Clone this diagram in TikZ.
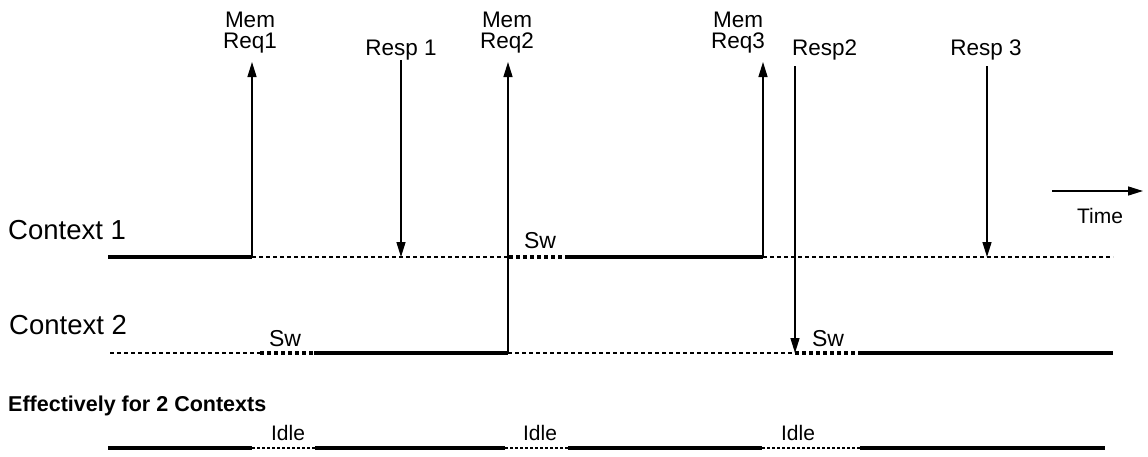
\documentclass[tikz,border=0pt]{standalone}
\usepackage{fontspec}
\setmainfont{Liberation Sans}
\usetikzlibrary{arrows.meta}
\tikzset{
  busy/.style={line width=3.8pt},
  waitline/.style={line width=1.3pt, dash pattern=on 4pt off 3pt},
  swline/.style={line width=3.8pt, dash pattern=on 4pt off 3pt},
  idleline/.style={line width=1.5pt, dash pattern=on 3pt off 2pt},
  evt/.style={line width=1.4pt, -{Triangle[length=15pt,width=9pt]}},
  lbl/.style={font=\fontsize{22.5}{21}\selectfont, align=center, inner sep=0pt},
  resp/.style={font=\fontsize{22.5}{24}\selectfont, inner sep=0pt},
  big/.style={font=\fontsize{27.5}{30}\selectfont, inner sep=0pt, anchor=base west},
  small/.style={font=\fontsize{21}{24}\selectfont, inner sep=0pt, anchor=base},
  swlbl/.style={font=\fontsize{23}{24}\selectfont, inner sep=0pt, anchor=base},
}
\begin{document}
\begin{tikzpicture}[x=1pt,y=-1pt]
\useasboundingbox (0,0) rectangle (1148,456);
% Context 1 coordinates
\coordinate (a0) at (108,257);
\coordinate (a1) at (252,257);
\coordinate (a2) at (509,257);
\coordinate (a3) at (568,257);
\coordinate (a4) at (763,257);
\coordinate (a5) at (1113,257);
% Context 2 coordinates
\coordinate (b0) at (110,353);
\coordinate (b1) at (260,353);
\coordinate (b2) at (314,353);
\coordinate (b3) at (508,353);
\coordinate (b4) at (795,353);
\coordinate (b5) at (860,353);
\coordinate (b6) at (1113,353);
% Effective
\coordinate (c0) at (108,448);
\coordinate (c1) at (252,448);
\coordinate (c2) at (315,448);
\coordinate (c3) at (505,448);
\coordinate (c4) at (568,448);
\coordinate (c5) at (762,448);
\coordinate (c6) at (860,448);
\coordinate (c7) at (1105,448);
% event endpoints
\coordinate (r1top) at (252,62);
\coordinate (r2top) at (508,62);
\coordinate (r3top) at (763,62);
\coordinate (p1top) at (401,60);
\coordinate (p1bot) at (401,257);
\coordinate (p2top) at (795,66);
\coordinate (p3top) at (987,66);
\coordinate (p3bot) at (987,257);
\coordinate (t0) at (1052,191);
\coordinate (t1) at (1143,191);

% labels
\node[big] (ctx1) at (8,239) {Context 1};
\node[big] (ctx2) at (9,334) {Context 2};
\node[anchor=base west, inner sep=0pt, font=\fontsize{21.5}{24}\selectfont\bfseries] (eff) at (8,411) {Effectively for 2 Contexts};
\node[lbl, anchor=south] (lr1) at (250,53) {Mem\\Req1};
\node[lbl, anchor=south] (lr2) at (507,53) {Mem\\Req2};
\node[lbl, anchor=south] (lr3) at (738,53) {Mem\\Req3};
\node[resp, anchor=base] (lp1) at (401,55) {Resp 1};
\node[resp, anchor=base west] (lp2) at (792,55) {Resp2};
\node[resp, anchor=base] (lp3) at (986,55) {Resp 3};
\node[small] (time) at (1100,223) {Time};
\node[swlbl] (sw1) at (540,248) {Sw};
\node[swlbl] (sw2) at (285,346) {Sw};
\node[swlbl] (sw3) at (828,346) {Sw};
\node[small] (id1) at (288,440) {Idle};
\node[small] (id2) at (540,440) {Idle};
\node[small] (id3) at (798,440) {Idle};

% Context 1
\draw[busy] (a0) -- (a1);
\draw[waitline] (a1) -- (a2);
\draw[swline] (a2) -- (a3);
\draw[busy] (a3) -- (a4);
\draw[waitline] (a4) -- (a5);
% Context 2
\draw[waitline] (b0) -- (b1);
\draw[swline] (b1) -- (b2);
\draw[busy] (b2) -- (b3);
\draw[waitline] (b3) -- (b4);
\draw[swline] (b4) -- (b5);
\draw[busy] (b5) -- (b6);
% Effective
\draw[busy] (c0) -- (c1);
\draw[idleline] (c1) -- (c2);
\draw[busy] (c2) -- (c3);
\draw[idleline] (c3) -- (c4);
\draw[busy] (c4) -- (c5);
\draw[idleline] (c5) -- (c6);
\draw[busy] (c6) -- (c7);
% events
\draw[evt] (a1) -- (r1top);
\draw[evt] (b3) -- (r2top);
\draw[evt] (a4) -- (r3top);
\draw[evt] (p1top) -- (p1bot);
\draw[evt] (p2top) -- (b4);
\draw[evt] (p3top) -- (p3bot);
\draw[evt] (t0) -- (t1);
\end{tikzpicture}
\end{document}
